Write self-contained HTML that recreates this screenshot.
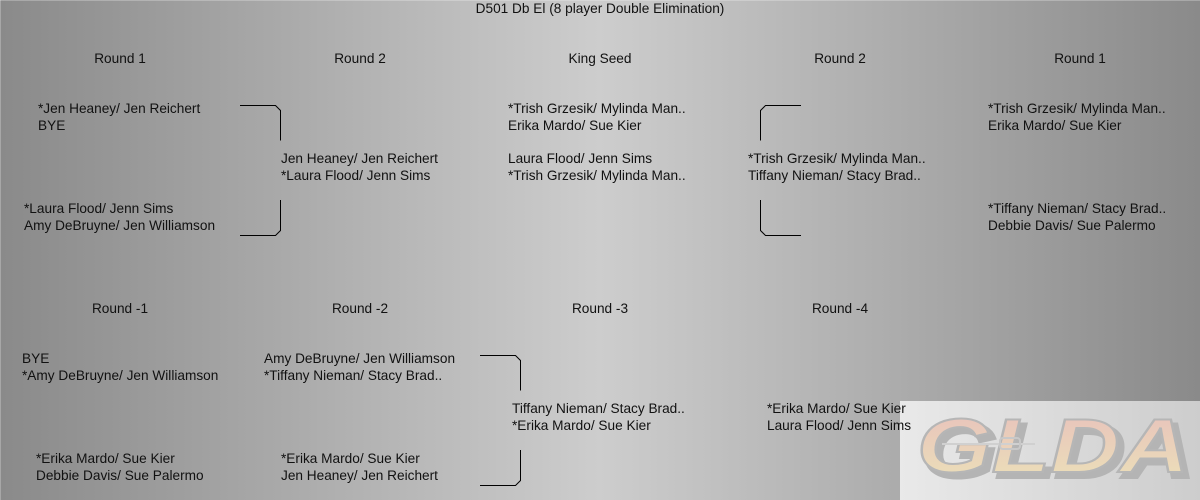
<!DOCTYPE html>
<html>
<head>
<meta charset="utf-8">
<style>
  html, body { margin: 0; padding: 0; }
  body { width: 1200px; height: 500px; overflow: hidden; }
  svg { display: block; }
  text { font-family: "Liberation Sans", Arial, sans-serif; font-size: 13.65px; fill: #111; }
</style>
</head>
<body>
<svg width="1200" height="500" viewBox="0 0 1200 500" xmlns="http://www.w3.org/2000/svg">
  <defs>
    <linearGradient id="bg" x1="0" y1="0" x2="1" y2="0">
      <stop offset="0" stop-color="#8a8a8a"/>
      <stop offset="0.5" stop-color="#cdcdcd"/>
      <stop offset="1" stop-color="#8a8a8a"/>
    </linearGradient>
    <linearGradient id="logobox" x1="0" y1="0" x2="1" y2="0">
      <stop offset="0" stop-color="#e9e9e9"/>
      <stop offset="1" stop-color="#cdcdcd"/>
    </linearGradient>
    <linearGradient id="logofill" x1="0" y1="0" x2="0" y2="1">
      <stop offset="0" stop-color="#e8c0bc"/>
      <stop offset="1" stop-color="#ece2b8"/>
    </linearGradient>
  </defs>

  <rect x="0" y="0" width="1200" height="500" fill="url(#bg)"/>
  <line x1="0" y1="0.5" x2="1200" y2="0.5" stroke="#ffffff" stroke-opacity="0.25"/>
  <line x1="0.5" y1="0" x2="0.5" y2="500" stroke="#ffffff" stroke-opacity="0.25"/>

  <!-- logo box -->
  <rect x="900" y="401" width="300" height="99" fill="url(#logobox)"/>
  <g>
    <text x="922" y="477" textLength="272" lengthAdjust="spacingAndGlyphs"
      style="font-size:76px;font-weight:bold;font-style:italic;fill:#b4b4b4;stroke:#b4b4b4;stroke-width:4">GLDA</text>
    <text x="917" y="472" textLength="272" lengthAdjust="spacingAndGlyphs"
      style="font-size:76px;font-weight:bold;font-style:italic;fill:url(#logofill);stroke:#b6b6b6;stroke-width:2">GLDA</text>
    <line x1="942" y1="444" x2="1035" y2="444" stroke="#d0d0d0" stroke-width="2"/>
    <rect x="1000" y="438" width="20" height="11" rx="3" fill="none" stroke="#c8c8c8" stroke-width="2"/>
  </g>

  <!-- title -->
  <text x="600" y="13" text-anchor="middle">D501 Db El (8 player Double Elimination)</text>

  <!-- headers winners -->
  <text x="120" y="63" text-anchor="middle">Round 1</text>
  <text x="360" y="63" text-anchor="middle">Round 2</text>
  <text x="600" y="63" text-anchor="middle">King Seed</text>
  <text x="840" y="63" text-anchor="middle">Round 2</text>
  <text x="1080" y="63" text-anchor="middle">Round 1</text>

  <!-- headers losers -->
  <text x="120" y="313" text-anchor="middle">Round -1</text>
  <text x="360" y="313" text-anchor="middle">Round -2</text>
  <text x="600" y="313" text-anchor="middle">Round -3</text>
  <text x="840" y="313" text-anchor="middle">Round -4</text>

  <!-- Round 1 left -->
  <text x="38" y="113">*Jen Heaney/ Jen Reichert</text>
  <text x="38" y="130">BYE</text>
  <text x="24" y="213">*Laura Flood/ Jenn Sims</text>
  <text x="24" y="230">Amy DeBruyne/ Jen Williamson</text>

  <!-- Round 2 left -->
  <text x="281" y="163">Jen Heaney/ Jen Reichert</text>
  <text x="281" y="180">*Laura Flood/ Jenn Sims</text>

  <!-- King seed -->
  <text x="508" y="113">*Trish Grzesik/ Mylinda Man..</text>
  <text x="508" y="130">Erika Mardo/ Sue Kier</text>
  <text x="508" y="163">Laura Flood/ Jenn Sims</text>
  <text x="508" y="180">*Trish Grzesik/ Mylinda Man..</text>

  <!-- Round 2 right -->
  <text x="748" y="163">*Trish Grzesik/ Mylinda Man..</text>
  <text x="748" y="180">Tiffany Nieman/ Stacy Brad..</text>

  <!-- Round 1 right -->
  <text x="988" y="113">*Trish Grzesik/ Mylinda Man..</text>
  <text x="988" y="130">Erika Mardo/ Sue Kier</text>
  <text x="988" y="213">*Tiffany Nieman/ Stacy Brad..</text>
  <text x="988" y="230">Debbie Davis/ Sue Palermo</text>

  <!-- Round -1 -->
  <text x="22" y="363">BYE</text>
  <text x="22" y="380">*Amy DeBruyne/ Jen Williamson</text>
  <text x="36" y="463">*Erika Mardo/ Sue Kier</text>
  <text x="36" y="480">Debbie Davis/ Sue Palermo</text>

  <!-- Round -2 -->
  <text x="264" y="363">Amy DeBruyne/ Jen Williamson</text>
  <text x="264" y="380">*Tiffany Nieman/ Stacy Brad..</text>
  <text x="281" y="463">*Erika Mardo/ Sue Kier</text>
  <text x="281" y="480">Jen Heaney/ Jen Reichert</text>

  <!-- Round -3 -->
  <text x="512" y="413">Tiffany Nieman/ Stacy Brad..</text>
  <text x="512" y="430">*Erika Mardo/ Sue Kier</text>

  <!-- Round -4 -->
  <text x="767" y="413">*Erika Mardo/ Sue Kier</text>
  <text x="767" y="430">Laura Flood/ Jenn Sims</text>

  <!-- connectors -->
  <g fill="none" stroke="#000" stroke-width="1">
    <polyline points="240,105.5 275.5,105.5 280.5,110.5 280.5,140.5"/>
    <polyline points="280.5,200 280.5,230.5 275.5,235.5 240,235.5"/>
    <polyline points="801,105.5 765.5,105.5 760.5,110.5 760.5,140.5"/>
    <polyline points="760.5,200 760.5,230.5 765.5,235.5 801,235.5"/>
    <polyline points="480,355.5 515.5,355.5 520.5,360.5 520.5,390.5"/>
    <polyline points="520.5,450 520.5,480.5 515.5,485.5 480,485.5"/>
  </g>
</svg>
</body>
</html>
